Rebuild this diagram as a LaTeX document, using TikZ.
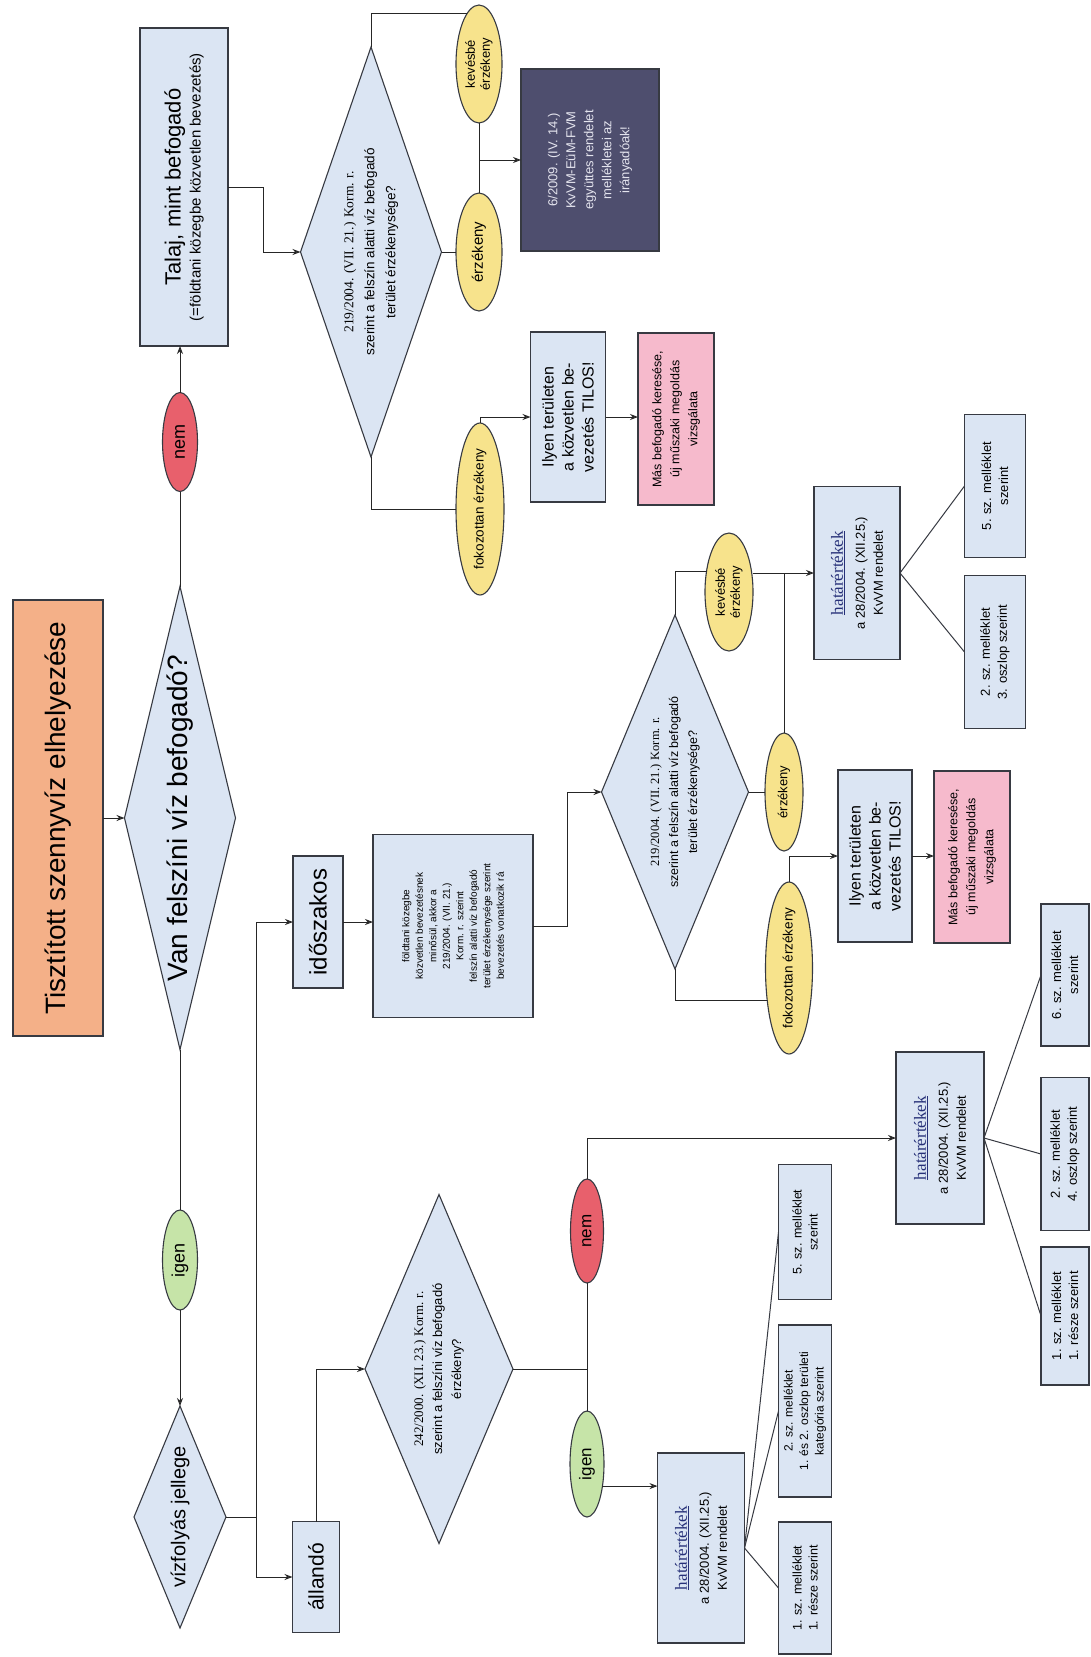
\documentclass[tikz,border=0pt]{standalone}
\usepackage{fontspec}
\setmainfont{Liberation Sans}
\newfontfamily\serifff{Liberation Serif}
\usetikzlibrary{shapes.geometric,arrows.meta}
\definecolor{boxc}{RGB}{219,229,243}
\definecolor{linec}{RGB}{55,58,66}
\definecolor{titlec}{RGB}{244,176,136}
\definecolor{yelc}{RGB}{247,227,140}
\definecolor{redc}{RGB}{232,96,108}
\definecolor{grnc}{RGB}{198,228,168}
\definecolor{pinkc}{RGB}{246,186,204}
\definecolor{darkc}{RGB}{78,78,110}
\definecolor{darktxt}{RGB}{228,228,238}
\definecolor{hatc}{RGB}{38,48,120}
\newcommand{\fsz}[2]{\fontsize{#1}{#2}\selectfont}
\newcommand{\hatx}{{\serifff\fsz{17}{22}\textcolor{hatc}{\underline{határértékek}}}\\[4pt]a 28/2004. (XII.25.)\\KvVM rendelet}
\begin{document}
\begin{tikzpicture}[x=1pt,y=-1pt,
 base/.style={rotate=90, inner sep=0pt, outer sep=0pt, draw=linec, line width=1.1pt, align=center, text=black},
 sz/.style 2 args={minimum width=#1, minimum height=#2},
 bx/.style={base, rectangle, fill=boxc},
 dia/.style={base, diamond, fill=boxc},
 yel/.style={base, ellipse, fill=yelc},
 hatbox/.style={bx, font=\fsz{13}{18}},
 mbox/.style={bx, font=\fsz{13}{17}},
 conn/.style={line width=1pt, draw=black!85},
 arr/.style={conn, -{Stealth[length=8pt,width=6pt,fill=gray]}},
 fan/.style={line width=1pt, draw=linec},
]
\fill[white] (0,0) rectangle (1091,1657);
\useasboundingbox (0,0) rectangle (1091,1657);

% main column
\node[bx, fill=titlec, sz={436}{90}, font=\fsz{28}{32}] (title) at (58,818) {Tisztított szennyvíz elhelyezése};
\node[dia, sz={463}{111}, aspect=4.17, font=\fsz{28}{32}] (van) at (180,818) {Van felszíni víz befogadó?};
\node[base, ellipse, fill=redc, sz={99}{35}, font=\fsz{18}{20}] (nem1) at (180,442) {nem};
\node[bx, sz={318}{88}, font=\fsz{15}{18}] (talaj) at (184,187) {{\fsz{22}{27}Talaj, mint befogadó}\\[2pt](=földtani közegbe közvetlen bevezetés)};
\node[base, ellipse, fill=grnc, sz={100}{35}, font=\fsz{18}{20}] (ig1) at (180,1260) {igen};
\node[dia, sz={222}{92}, aspect=2.41, font=\fsz{20}{24}] (vf) at (180,1517) {vízfolyás jellege};

% soil branch
\node[dia, sz={410}{141}, aspect=2.9, font=\fsz{13.5}{21}] (d2) at (371,252) {{\serifff 219/2004. (VII. 21.) Korm. r.}\\szerint a felszín alatti víz befogadó\\terület érzékenysége?};
\node[yel, sz={118}{46}, font=\fsz{13}{15}] (kv1) at (479,64) {kevésbé\\érzékeny};
\node[yel, sz={118}{46}, font=\fsz{15}{17}] (ez1) at (479,252) {érzékeny};
\node[bx, fill=darkc, text=darktxt, sz={182}{138}, font=\fsz{13}{18}] (dark) at (590,160) {6/2009. (IV. 14.)\\KvVM-EüM-FVM\\együttes rendelet\\mellékletei az\\irányadóak!};
\node[yel, sz={172}{48}, font=\fsz{13.5}{16}] (fe1) at (480,509) {fokozottan érzékeny};
\node[bx, sz={170}{75}, font=\fsz{16}{20}] (ily1) at (568,417) {Ilyen területen\\a közvetlen be-\\vezetés TILOS!};
\node[bx, fill=pinkc, sz={172}{76}, font=\fsz{12.5}{18}] (pink1) at (676,419) {Más befogadó keresése,\\új műszaki megoldás\\vizsgálata};

% periodic branch
\node[bx, sz={132}{50}, font=\fsz{24}{28}] (ido) at (318,922) {időszakos};
\node[bx, sz={183}{160}, font=\fsz{10}{13.5}] (small) at (453,926) {földtani közegbe\\közvetlen bevezetésnek\\minősül, akkor a\\219/2004. (VII. 21.)\\Korm. r. szerint\\felszín alatti víz befogadó\\terület érzékenysége szerint\\bevezetés vonatkozik rá};
\node[dia, sz={354}{147}, aspect=2.41, font=\fsz{12.5}{19}] (d3) at (675,792) {{\serifff 219/2004. (VII. 21.) Korm. r.}\\szerint a felszín alatti víz befogadó\\terület érzékenysége?};
\node[yel, sz={118}{48}, font=\fsz{13}{15}] (kv2) at (729,592) {kevésbé\\érzékeny};
\node[yel, sz={118}{38}, font=\fsz{13}{15}] (ez2) at (784,792) {érzékeny};
\node[yel, sz={172}{47}, font=\fsz{13.5}{16}] (fe2) at (789,968) {fokozottan érzékeny};
\node[bx, sz={172}{74}, font=\fsz{16}{20}] (ily2) at (875,856) {Ilyen területen\\a közvetlen be-\\vezetés TILOS!};
\node[bx, fill=pinkc, sz={172}{76}, font=\fsz{12.5}{18}] (pink2) at (972,857) {Más befogadó keresése,\\új műszaki megoldás\\vizsgálata};
\node[hatbox, sz={173}{86}] (hat3) at (857,573) {\hatx};
\node[mbox, sz={143}{61}] (b5a) at (995,486) {5. sz. melléklet\\szerint};
\node[mbox, sz={153}{61}] (b2a) at (995,652) {2. sz. melléklet\\3. oszlop szerint};

% permanent branch
\node[bx, sz={111}{47}, font=\fsz{21}{24}] (all) at (316,1577) {állandó};
\node[dia, sz={349}{148}, aspect=2.36, font=\fsz{13}{19}] (d4) at (439,1369) {{\serifff 242/2000. (XII. 23.) Korm. r.}\\szerint a felszíni víz befogadó\\érzékeny?};
\node[base, ellipse, fill=redc, sz={104}{33}, font=\fsz{17}{20}] (nem2) at (587,1231) {nem};
\node[base, ellipse, fill=grnc, sz={106}{34}, font=\fsz{17}{20}] (ig2) at (587,1464) {igen};
\node[hatbox, sz={172}{88}] (hat2) at (940,1138) {\hatx};
\node[mbox, sz={142}{48}] (b6) at (1065,975) {6. sz. melléklet\\szerint};
\node[mbox, sz={153}{48}] (b2c) at (1065,1154) {2. sz. melléklet\\4. oszlop szerint};
\node[mbox, sz={138}{48}] (b1c) at (1065,1316) {1. sz. melléklet\\1. része szerint};
\node[hatbox, sz={190}{87}] (hat1) at (701,1548) {\hatx};
\node[bx, sz={132}{53}, font=\fsz{12.5}{16}] (b1a) at (805,1588) {1. sz. melléklet\\1. része szerint};
\node[bx, sz={172}{53}, font=\fsz{12}{15.5}] (b2b) at (805,1411) {2. sz. melléklet\\1. és 2. oszlop területi\\kategória szerint};
\node[bx, sz={135}{53}, font=\fsz{12.5}{16}] (b5b) at (805,1232) {5. sz. melléklet\\szerint};

% connectors main
\draw[arr] (title.south) -- (title.south -| van.north);
\draw[conn] (van.east) -- (nem1.west);
\draw[arr] (nem1.east) -- (nem1.east |- talaj.west);
\draw[conn] (van.west) -- (ig1.east);
\draw[arr] (ig1.west) -- (vf.east);
\draw[arr] (vf.south) -- ++(30,0) |- (ido.north);
\draw[arr] (vf.south) -- ++(30,0) |- (all.north);

% soil branch connectors
\draw[arr] (talaj.south) -- ++(35,0) |- (d2.north);
\draw[conn] (d2.east) |- (kv1.13);
\draw[conn] (d2.south) -- (ez1.north);
\draw[conn] (kv1.west) -- (ez1.east);
\draw[arr] (kv1.west |- dark.north) -- (dark.north);
\draw[conn] (d2.west) |- (fe1.north);
\draw[arr] (fe1.east) |- (ily1.north);
\draw[arr] (ily1.south) -- (ily1.south -| pink1.north);

% periodic connectors
\draw[arr] (ido.south) -- (ido.south -| small.north);
\draw[arr] (small.south) -- ++(34,0) |- (d3.north);
\draw[conn] (d3.east) |- (kv2.47);
\draw[conn] (d3.south) -- (d3.south -| ez2.north);
\draw[arr] (kv2.south |- hat3.north) -- (hat3.north);
\draw[conn] (ez2.east) -- (ez2.east |- hat3.north);
\draw[conn] (d3.west) |- (fe2.146);
\draw[arr] (fe2.east) |- (ily2.north);
\draw[arr] (ily2.south) -- (ily2.south -| pink2.north);
\draw[fan] (hat3.south) -- (b5a.north);
\draw[fan] (hat3.south) -- (b2a.north);

% permanent connectors
\draw[arr] (all.east) |- (d4.north);
\draw[conn] (d4.south) -- (d4.south -| nem2.west);
\draw[conn] (nem2.west) -- (ig2.east);
\draw[arr] (nem2.east) |- (hat2.north);
\draw[arr] (ig2.-145) -- (ig2.-145 -| hat1.north);
\draw[fan] (hat2.south) -- (b6.north);
\draw[fan] (hat2.south) -- (b2c.north);
\draw[fan] (hat2.south) -- (b1c.north);
\draw[fan] (hat1.south) -- (b1a.north);
\draw[fan] (hat1.south) -- (b2b.north);
\draw[fan] (hat1.south) -- (b5b.north);
\end{tikzpicture}
\end{document}
